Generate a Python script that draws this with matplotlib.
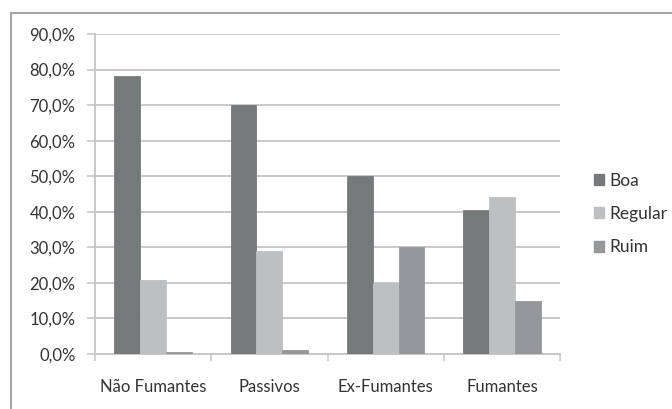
import matplotlib
matplotlib.use("Agg")
import matplotlib.pyplot as plt
import matplotlib.patches as mpatches
from matplotlib.ticker import FixedLocator, FuncFormatter
import numpy as np

categories = ["Não Fumantes", "Passivos", "Ex-Fumantes", "Fumantes"]
series_names = ["Boa", "Regular", "Ruim"]
boa = [78.2, 70.0, 50.0, 40.4]
regular = [20.7, 29.0, 20.0, 44.2]
ruim = [0.5, 1.0, 30.0, 14.8]
y_ticks = [0, 10, 20, 30, 40, 50, 60, 70, 80, 90]

colors = ["#76797a", "#bdbfc0", "#95979a"]

plt.rcParams['font.family'] = ['Lato', 'DejaVu Sans']

fig = plt.figure(figsize=(6.72, 4.09), dpi=100)
ax = fig.add_axes([95/672, 1 - 354/409, (560 - 95)/672, (354 - 34)/409])

x = np.arange(len(categories))
w = 1 / 4.5
for i, (vals, name) in enumerate(zip([boa, regular, ruim], series_names)):
    ax.bar(x + (i - 1) * w, vals, width=w, color=colors[i], label=name,
           edgecolor=colors[i], linewidth=0.6, zorder=3)

ax.set_xlim(-0.5, len(categories) - 0.5)
ax.set_ylim(0, 90)
ax.yaxis.set_major_locator(FixedLocator(y_ticks))
ax.yaxis.set_major_formatter(FuncFormatter(lambda v, p: f"{v:.1f}%".replace(".", ",")))
ax.grid(axis='y', color="#c8c8c8", linewidth=1.4, zorder=0)
ax.set_axisbelow(True)

ax.set_xticks(np.arange(len(categories) + 1) - 0.5)
ax.set_xticklabels([])
ax.set_xticks(x, minor=True)
ax.set_xticklabels(categories, minor=True)
ax.tick_params(axis='x', which='minor', length=0, pad=18, labelsize=12, labelcolor="#333333")
ax.tick_params(axis='x', which='major', length=5, color="#c8c8c8", width=1.2)
ax.tick_params(axis='y', length=6, color="#c8c8c8", width=1.2, labelsize=12, labelcolor="#333333", pad=8)

for s in ["top", "right"]:
    ax.spines[s].set_visible(False)
ax.spines["left"].set_color("#c8c8c8")
ax.spines["left"].set_linewidth(1.4)
ax.spines["bottom"].set_color("#c8c8c8")
ax.spines["bottom"].set_linewidth(1.4)

handles = [mpatches.Patch(color=c, label=n) for c, n in zip(colors, series_names)]
leg = ax.legend(handles=handles, loc='center left', bbox_to_anchor=(578/672, 1 - 214/409),
                bbox_transform=fig.transFigure, frameon=False, fontsize=12.5,
                handlelength=0.6, handleheight=0.6, handletextpad=0.3, labelspacing=1.0)
for t in leg.get_texts():
    t.set_color("#333333")

border = mpatches.Rectangle((11/672, -0.05), 1.2, 1 - 13/409 + 0.05, transform=fig.transFigure,
                            fill=False, edgecolor="#a6a6a6", linewidth=1.5, clip_on=False)
fig.patches.append(border)

fig.savefig("out.png", dpi=100)
